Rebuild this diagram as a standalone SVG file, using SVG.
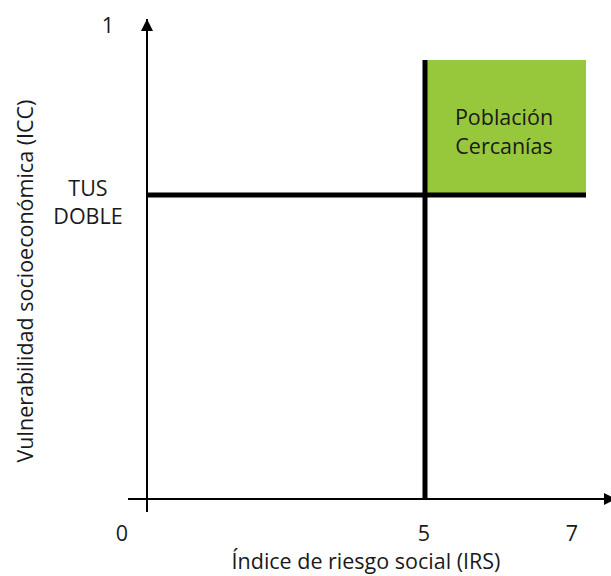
<svg xmlns="http://www.w3.org/2000/svg" width="611" height="576" viewBox="0 0 611 576">
<defs>
<marker id="arr" viewBox="0 0 10 10" refX="10" refY="5" markerWidth="6" markerHeight="6" orient="auto" markerUnits="strokeWidth">
<path d="M0,0 L10,5 L0,10 z" fill="#000"/>
</marker>
<style>
text{font-family:"Open Sans","Noto Sans",sans-serif;fill:#1a1a1a;font-size:21.5px}
.axis{stroke:#000;stroke-width:2;fill:none}
.thick{stroke:#000;stroke-width:5;fill:none}
</style>
</defs>
<rect width="611" height="576" fill="#fff"/>
<g id="region-green"><rect x="425" y="60" width="161" height="135" fill="#97c83c"/>
<text x="504" y="125" text-anchor="middle">Población</text>
<text x="504" y="154" text-anchor="middle">Cercanías</text></g>
<g id="connectors">
<line class="axis" x1="147" y1="512" x2="147" y2="19" marker-end="url(#arr)"/>
<line class="axis" x1="128" y1="499" x2="616" y2="499" marker-end="url(#arr)"/>
<line class="thick" x1="147" y1="195" x2="586" y2="195"/>
<line class="thick" x1="425" y1="60" x2="425" y2="500"/>
</g>
<g id="labels">
<text x="108" y="33" text-anchor="middle">1</text>
<text x="88" y="196" text-anchor="middle">TUS</text>
<text x="88" y="224" text-anchor="middle">DOBLE</text>
<text x="122" y="541" text-anchor="middle">0</text>
<text x="424" y="541" text-anchor="middle">5</text>
<text x="572" y="541" text-anchor="middle">7</text>
<text x="366" y="569" text-anchor="middle">Índice de riesgo social (IRS)</text>
<text transform="translate(33,281) rotate(-90)" text-anchor="middle">Vulnerabilidad socioeconómica (ICC)</text>
</g>
</svg>
